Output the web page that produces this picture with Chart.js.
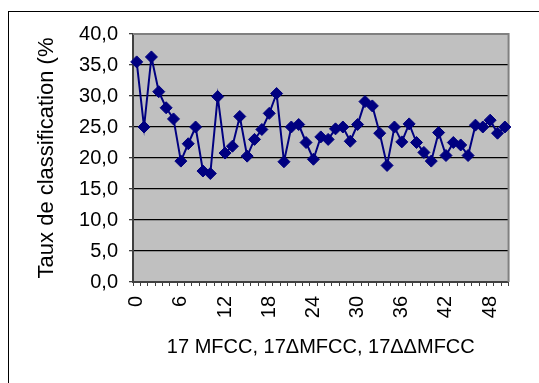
<!DOCTYPE html>
<html>
<head>
<meta charset="utf-8">
<script src="https://cdn.jsdelivr.net/npm/chart.js@4/dist/chart.umd.min.js"></script>
<style>
  html, body { margin: 0; padding: 0; background: #fff; overflow: hidden; }
  #wrap { position: relative; width: 539px; height: 383px; }
  #frame { position: absolute; left: 8px; top: 11px; width: 600px; height: 400px; border: 1px solid #000; pointer-events: none; }
</style>
</head>
<body>
<div id="wrap">
  <canvas id="chart" width="539" height="383"></canvas>
  <div id="frame"></div>
</div>
<script>
// categories (0..50)
const categories = [0,1,2,3,4,5,6,7,8,9,10,11,12,13,14,15,16,17,18,19,20,
  21,22,23,24,25,26,27,28,29,30,31,32,33,34,35,36,37,38,39,40,
  41,42,43,44,45,46,47,48,49,50];
// taux de classification (%)
const tauxValues = [35.5,25.0,36.3,30.7,28.1,26.3,19.5,22.3,25.0,17.9,17.5,
  29.9,20.8,21.9,26.7,20.3,23.0,24.6,27.2,30.4,19.4,
  25.0,25.4,22.5,19.8,23.4,23.0,24.7,25.0,22.7,25.4,
  29.1,28.4,24.0,18.8,25.0,22.6,25.5,22.5,20.9,19.5,
  24.1,20.4,22.5,22.1,20.4,25.3,25.0,26.1,24.0,25.0];
const xTickLabels = ["0","6","12","18","24","30","36","42","48"];
const yTicks = [0,5,10,15,20,25,30,35,40];
const xTitle = "17 MFCC, 17\u0394MFCC, 17\u0394\u0394MFCC";
const yTitle = "Taux de classification (%";

const plotBg = {
  id: "plotBg",
  beforeDraw(chart) {
    const {ctx, chartArea: a} = chart;
    ctx.save();
    ctx.fillStyle = "#c0c0c0";
    ctx.fillRect(a.left, a.top, a.right - a.left, a.bottom - a.top);
    ctx.restore();
  },
  beforeDatasetsDraw(chart) {
    const {ctx, chartArea: a} = chart;
    ctx.save();
    ctx.strokeStyle = "#808080";
    ctx.lineWidth = 2;
    ctx.beginPath();
    ctx.moveTo(a.left, a.top);
    ctx.lineTo(a.right, a.top);
    ctx.lineTo(a.right, a.bottom);
    ctx.stroke();
    ctx.restore();
  }
};

new Chart(document.getElementById("chart").getContext("2d"), {
  type: "line",
  data: {
    labels: categories.map(String),
    datasets: [{
      data: tauxValues,
      borderColor: "#000080",
      backgroundColor: "#000080",
      borderWidth: 2,
      pointStyle: "rectRot",
      pointRadius: 6,
      pointBorderWidth: 1,
      pointBackgroundColor: "#000080",
      pointBorderColor: "#000080",
      tension: 0
    }]
  },
  options: {
    responsive: false,
    animation: false,
    layout: { padding: { left: 0, top: 34, right: 11, bottom: 0 } },
    plugins: { legend: { display: false }, tooltip: { enabled: false } },
    scales: {
      x: {
        type: "category",
        offset: true,
        grid: { display: true, drawOnChartArea: false, drawTicks: true, offset: true, tickLength: 4, tickColor: "#404040" },
        border: { display: true, color: "#404040", width: 2 },
        ticks: {
          autoSkip: false,
          maxRotation: 90,
          minRotation: 90,
          padding: 10,
          color: "#000",
          font: { family: "Liberation Sans, Arial", size: 20 },
          callback: function (v, i) {
            const lab = String(categories[i]);
            return xTickLabels.includes(lab) ? lab : "";
          }
        },
        title: {
          display: true,
          text: xTitle,
          color: "#000",
          font: { family: "Liberation Sans, Arial", size: 20 },
          padding: { top: 0, bottom: 24 }
        },
        afterFit(scale) { scale.height = 101; }
      },
      y: {
        min: 0,
        max: 40,
        grid: {
          color: (c) => (c.tick && c.tick.value === 40 ? "#808080" : "#000"),
          lineWidth: 1.3,
          tickLength: 4,
          tickColor: "#404040"
        },
        border: { display: true, color: "#404040", width: 2 },
        afterBuildTicks(scale) { scale.ticks = yTicks.map(v => ({ value: v })); },
        ticks: {
          padding: 11,
          color: "#000",
          font: { family: "Liberation Sans, Arial", size: 20 },
          callback: (v) => Number(v).toFixed(1).replace(".", ",")
        },
        title: {
          display: true,
          text: yTitle,
          color: "#000",
          font: { family: "Liberation Sans, Arial", size: 22 },
          padding: { top: 34, bottom: 0 }
        },
        afterFit(scale) { scale.width = 133; }
      }
    }
  },
  plugins: [plotBg]
});
</script>
</body>
</html>
